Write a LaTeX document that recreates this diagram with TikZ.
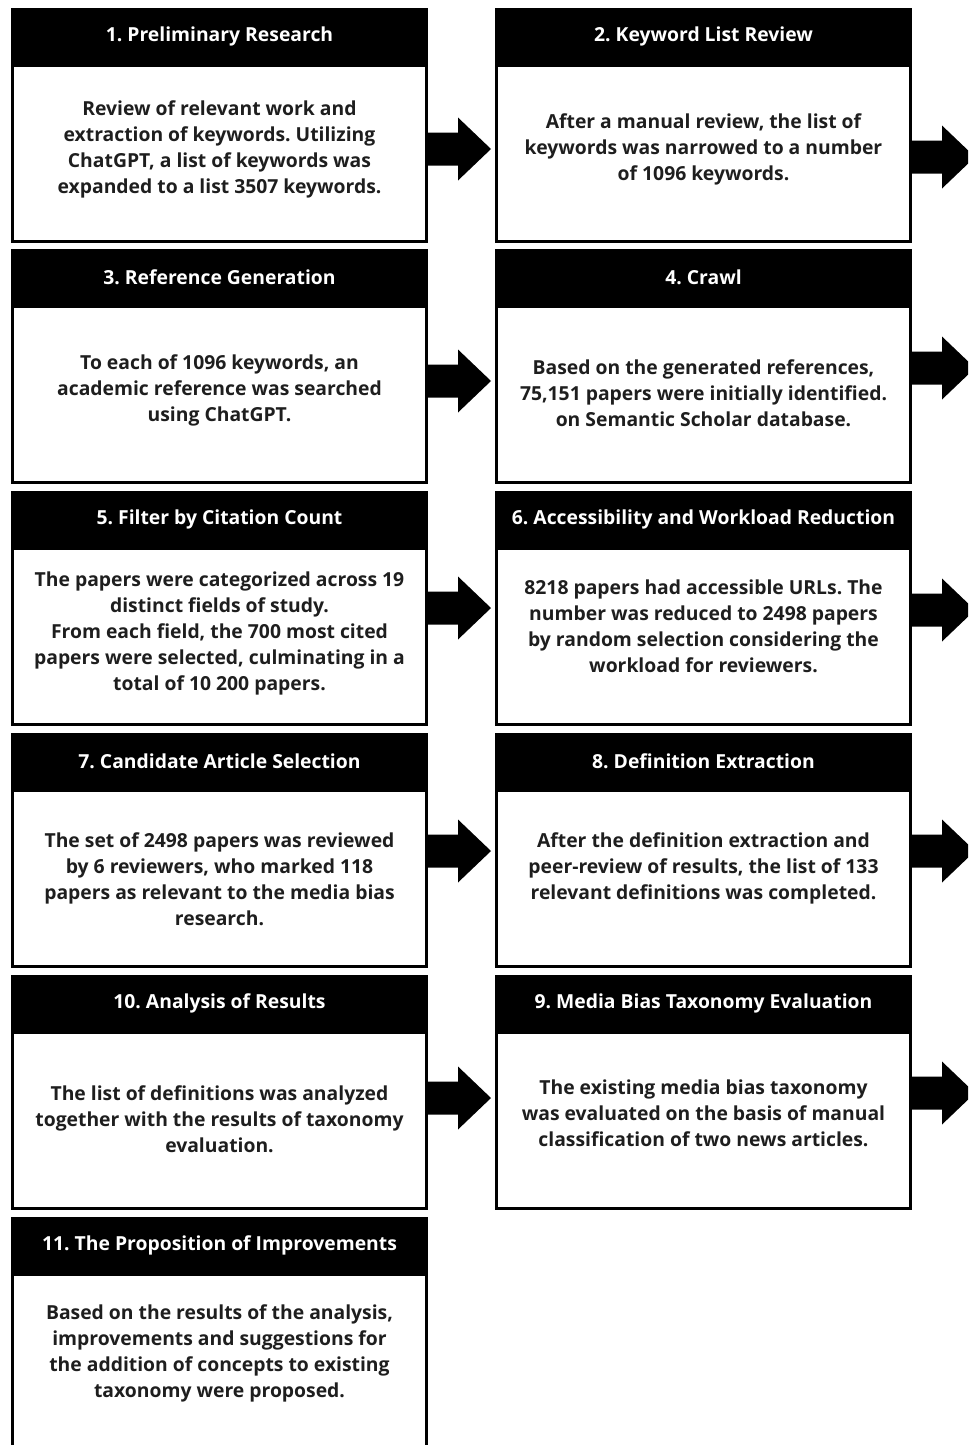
\documentclass[tikz,border=0pt]{standalone}
\usepackage{fontspec}
\setmainfont{Open Sans}
\frenchspacing
\definecolor{txt}{HTML}{1E1E1E}
\newcommand\flowstep[6]{%
  \node[hdr] (h#1) at (#2,#3+28.25) {\raisebox{-1.5pt}{#4}};
  \node[bodybox] (b#1) at (h#1.south) {};
  \node[bodytext] (t#1) at ([yshift=#6*0.75pt]b#1.center) {#5};
}
\newcommand\bigarrowfrom[2]{%
  \fill[arrowfill] (#1.east |- 0,#2) ++(0,-16.5) -- ++(30,0) -- ++(0,-15) -- ++(33,31.5) -- ++(-33,31.5) -- ++(0,-15) -- ++(-30,0) -- cycle;}
\begin{document}
\begin{tikzpicture}[x=0.75pt,y=-0.75pt,
  hdr/.style={fill=black,draw=black,line width=2.25pt,minimum width=414*0.75pt,minimum height=53*0.75pt,inner sep=0pt,text=white,font=\bfseries\fontsize{14.5}{19.5}\selectfont},
  bodybox/.style={draw=black,line width=2.25pt,minimum width=414*0.75pt,minimum height=175.5*0.75pt,inner sep=0pt,anchor=north},
  bodytext/.style={align=center,inner sep=0pt,text=txt,font=\bfseries\fontsize{14.5}{19.5}\selectfont},
  arrowfill/.style={fill=black}]
\useasboundingbox (0,0) rectangle (968,1445);
\clip (0,0) rectangle (968,1445);
\flowstep{1}{219.5}{8}{1. Preliminary Research}{Review of relevant work and\\extraction of keywords. Utilizing\\ChatGPT, a list of keywords was\\expanded to a list 3507 keywords.}{4}
\flowstep{2}{703.5}{8}{2. Keyword List Review}{After a manual review, the list of\\keywords was narrowed to a number\\of 1096 keywords.}{4}
\flowstep{3}{219.5}{249}{3. Reference Generation}{To each of 1096 keywords, an\\academic reference was searched\\using ChatGPT.}{4}
\flowstep{4}{703.5}{249}{4. Crawl}{Based on the generated references,\\75,151 papers were initially identified.\\on Semantic Scholar database.}{1}
\flowstep{5}{219.5}{491}{5. Filter by Citation Count}{The papers were categorized across 19\\distinct fields of study.\\From each field, the 700 most cited\\papers were selected, culminating in a\\total of 10 200 papers.}{3}
\flowstep{6}{703.5}{491}{6. Accessibility and Workload Reduction}{8218 papers had accessible URLs. The\\number was reduced to 2498 papers\\by random selection considering the\\workload for reviewers.}{10}
\flowstep{7}{219.5}{733}{7. Candidate Article Selection}{The set of 2498 papers was reviewed\\by 6 reviewers, who marked 118\\papers as relevant to the media bias\\research.}{-1}
\flowstep{8}{703.5}{733}{8. Definition Extraction}{After the definition extraction and\\peer-review of results, the list of 133\\relevant definitions was completed.}{10}
\flowstep{10}{219.5}{975}{10. Analysis of Results}{The list of definitions was analyzed\\together with the results of taxonomy\\evaluation.}{1}
\flowstep{9}{703.5}{975}{9. Media Bias Taxonomy Evaluation}{The existing media bias taxonomy\\was evaluated on the basis of manual\\classification of two news articles.}{7}
\flowstep{11}{219.5}{1217}{11. The Proposition of Improvements}{Based on the results of the analysis,\\improvements and suggestions for\\the addition of concepts to existing\\taxonomy were proposed.}{9}
\bigarrowfrom{b1}{149}
\bigarrowfrom{b2}{157}
\bigarrowfrom{b3}{381}
\bigarrowfrom{b4}{368}
\bigarrowfrom{b5}{608}
\bigarrowfrom{b6}{610}
\bigarrowfrom{b7}{851}
\bigarrowfrom{b8}{851}
\bigarrowfrom{b10}{1098}
\bigarrowfrom{b9}{1093}
\end{tikzpicture}
\end{document}
